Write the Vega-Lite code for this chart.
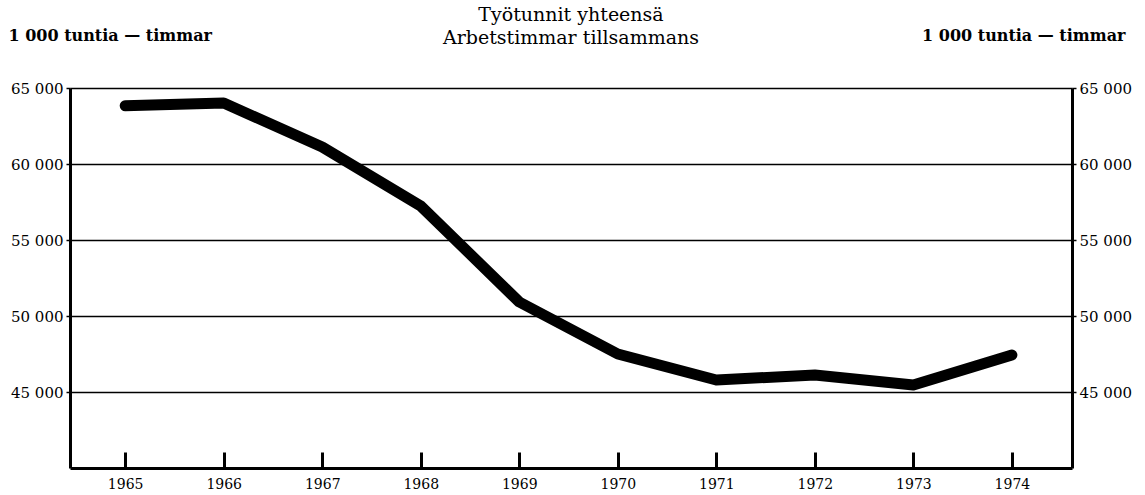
{
  "$schema": "https://vega.github.io/schema/vega-lite/v6.json",
  "autosize": "none",
  "width": 1002,
  "height": 380,
  "padding": {"left": 70, "top": 88, "right": 73, "bottom": 27},
  "background": "white",
  "title": {
    "text": "Työtunnit yhteensä",
    "subtitle": "Arbetstimmar tillsammans",
    "font": "DejaVu Serif",
    "fontSize": 19,
    "fontWeight": "normal",
    "subtitleFont": "DejaVu Serif",
    "subtitleFontSize": 19,
    "subtitlePadding": 4,
    "color": "black",
    "subtitleColor": "black",
    "anchor": "middle",
    "offset": -21
  },
  "data": {
    "values": [
      {"year": 1965, "hours": 63836},
      {"year": 1966, "hours": 64013},
      {"year": 1967, "hours": 61118},
      {"year": 1968, "hours": 57237},
      {"year": 1969, "hours": 50921},
      {"year": 1970, "hours": 47500},
      {"year": 1971, "hours": 45789},
      {"year": 1972, "hours": 46118},
      {"year": 1973, "hours": 45461},
      {"year": 1974, "hours": 47434}
    ]
  },
  "encoding": {
    "x": {
      "field": "year",
      "type": "quantitative",
      "scale": {"domain": [1964.44, 1974.61], "nice": false, "zero": false},
      "axis": {
        "title": null,
        "values": [1965, 1966, 1967, 1968, 1969, 1970, 1971, 1972, 1973, 1974],
        "format": "d",
        "grid": false,
        "domainColor": "black",
        "domainWidth": 3,
        "tickColor": "black",
        "tickWidth": 3,
        "tickSize": -16,
        "labelPadding": 25,
        "labelFont": "DejaVu Serif",
        "labelFontSize": 14,
        "labelColor": "black",
        "labelFlush": false
      }
    }
  },
  "layer": [
    {
      "mark": {"type": "line", "color": "black", "strokeWidth": 11, "strokeJoin": "round", "strokeCap": "round"},
      "encoding": {
        "y": {
          "field": "hours",
          "type": "quantitative",
          "scale": {"domain": [40000, 65000], "nice": false, "zero": false},
          "axis": {
            "orient": "left",
            "title": "1 000 tuntia — timmar",
            "titleAngle": 0,
            "titleX": -62,
            "titleY": -53,
            "titleAlign": "left",
            "titleBaseline": "middle",
            "titleFont": "DejaVu Serif",
            "titleFontSize": 16,
            "titleFontWeight": "bold",
            "titleColor": "black",
            "values": [45000, 50000, 55000, 60000, 65000],
            "labelExpr": "replace(format(datum.value, ','), ',', ' ')",
            "grid": true,
            "gridColor": "black",
            "gridWidth": 1.5,
            "gridOpacity": 1,
            "domainColor": "black",
            "domainWidth": 3,
            "tickColor": "black",
            "tickWidth": 1.5,
            "tickSize": 4,
            "labelPadding": 3,
            "labelFont": "DejaVu Serif",
            "labelFontSize": 15,
            "labelColor": "black"
          }
        }
      }
    },
    {
      "mark": {"type": "line", "opacity": 0},
      "encoding": {
        "y": {
          "field": "hours",
          "type": "quantitative",
          "scale": {"domain": [40000, 65000], "nice": false, "zero": false},
          "axis": {
            "orient": "right",
            "title": "1 000 tuntia — timmar",
            "titleAngle": 0,
            "titleX": 53,
            "titleY": -53,
            "titleAlign": "right",
            "titleBaseline": "middle",
            "titleFont": "DejaVu Serif",
            "titleFontSize": 16,
            "titleFontWeight": "bold",
            "titleColor": "black",
            "values": [45000, 50000, 55000, 60000, 65000],
            "labelExpr": "replace(format(datum.value, ','), ',', ' ')",
            "grid": false,
            "domainColor": "black",
            "domainWidth": 3,
            "tickColor": "black",
            "tickWidth": 1.5,
            "tickSize": 4,
            "labelPadding": 3,
            "labelFont": "DejaVu Serif",
            "labelFontSize": 15,
            "labelColor": "black"
          }
        }
      }
    }
  ],
  "resolve": {"axis": {"y": "independent"}},
  "config": {"view": {"stroke": null}}
}
